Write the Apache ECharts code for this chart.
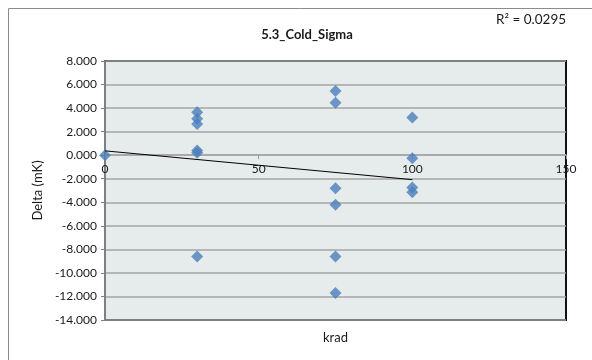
<!DOCTYPE html>
<html>
<head>
<meta charset="utf-8">
<script src="https://cdn.jsdelivr.net/npm/echarts@6/dist/echarts.min.js"></script>
<style>
  html, body { margin: 0; padding: 0; background: #fff; }
  #chart { width: 592px; height: 360px; }
</style>
</head>
<body>
<div id="chart"></div>
<script>
// dose (krad) and measured delta (mK) for each sample
const kradValues = [0, 30, 30, 30, 30, 30, 30, 75, 75, 75, 75, 75, 75, 100, 100, 100, 100];
const deltaValues = [0.0, 3.65, 3.1, 2.65, 0.4, 0.2, -8.6, 5.45, 4.45, -2.8, -4.2, -8.6, -11.7, 3.2, -0.25, -2.75, -3.15];
const xTicks = [0, 50, 100, 150];
const yTicks = [-14, -12, -10, -8, -6, -4, -2, 0, 2, 4, 6, 8];
const rSquaredLabel = 'R² = 0.0295';

// linear trendline from the points
function fitLine(xs, ys) {
  const n = xs.length;
  let sx = 0, sy = 0, sxy = 0, sxx = 0;
  for (let i = 0; i < n; i++) {
    sx += xs[i]; sy += ys[i];
    sxy += xs[i] * ys[i]; sxx += xs[i] * xs[i];
  }
  const slope = (n * sxy - sx * sy) / (n * sxx - sx * sx);
  const intercept = (sy - slope * sx) / n;
  return { slope, intercept };
}

const fit = fitLine(kradValues, deltaValues);
const xMin = Math.min(...kradValues);
const xMax = Math.max(...kradValues);
const trend = [
  [xMin, fit.intercept + fit.slope * xMin],
  [xMax, fit.intercept + fit.slope * xMax]
];

const points = kradValues.map((x, i) => [x, deltaValues[i]]);
const font = 'Lato, "Liberation Sans", sans-serif';

const gridTop = 61, gridHeight = 259;
const yMin = yTicks[0], yMax = yTicks[yTicks.length - 1];
// distance from grid bottom up to the y = 0 line, so the x axis sits there
const zeroLift = gridHeight * (0 - yMin) / (yMax - yMin);

const chart = echarts.init(document.getElementById('chart'), null, { renderer: 'canvas' });
chart.setOption({
  animation: false,
  textStyle: { fontFamily: font, color: '#1a1a1a' },
  title: {
    text: '5.3_Cold_Sigma',
    left: 302, top: 23, textAlign: 'center',
    textStyle: { fontFamily: font, fontSize: 13, fontWeight: 'bold', color: '#1a1a1a' }
  },
  graphic: [
    {
      type: 'rect', shape: { x: 8.5, y: 8.5, width: 600, height: 400 },
      style: { fill: 'none', stroke: '#8c8c8c', lineWidth: 1 }, z: -10
    },
    {
      type: 'text', left: 496, top: 13,
      style: { text: rSquaredLabel, font: '13.5px ' + font, fill: '#1a1a1a' }
    }
  ],
  grid: {
    left: 105, top: gridTop, width: 461, height: gridHeight,
    outerBoundsMode: 'none', containLabel: false,
    show: true, backgroundColor: '#e6ebeb', borderColor: '#111', borderWidth: 2
  },
  xAxis: {
    type: 'value', min: xTicks[0], max: xTicks[xTicks.length - 1], interval: 50,
    offset: -zeroLift,
    name: 'krad', nameLocation: 'middle', nameGap: 176,
    nameTextStyle: { fontFamily: font, fontSize: 13, color: '#1a1a1a' },
    axisLine: { onZero: false, lineStyle: { color: '#a5a5a5', width: 1.5 } },
    axisTick: { show: true, length: 4, lineStyle: { color: '#9a9a9a' } },
    axisLabel: { fontFamily: font, fontSize: 12, color: '#1a1a1a', margin: 8 },
    splitLine: { show: false }
  },
  yAxis: {
    type: 'value', min: yMin, max: yMax, interval: 2,
    name: 'Delta (mK)', nameLocation: 'middle', nameGap: 58,
    nameTextStyle: { fontFamily: font, fontSize: 13, color: '#1a1a1a' },
    axisLine: { show: true, lineStyle: { color: '#7f7f7f', width: 2 } },
    axisTick: { show: true, length: 4, lineStyle: { color: '#7f7f7f' } },
    axisLabel: {
      fontFamily: font, fontSize: 12, color: '#1a1a1a', margin: 8,
      formatter: v => v.toFixed(3)
    },
    splitLine: { show: true, lineStyle: { color: '#a5a5a5', width: 1.5 } }
  },
  series: [
    {
      type: 'scatter', data: points, symbol: 'diamond', symbolSize: [12, 12],
      itemStyle: { color: '#4a7ebb' }, z: 3
    },
    {
      type: 'line', data: trend, symbol: 'none',
      lineStyle: { color: '#000', width: 1 }, z: 4
    }
  ]
});
</script>
</body>
</html>
